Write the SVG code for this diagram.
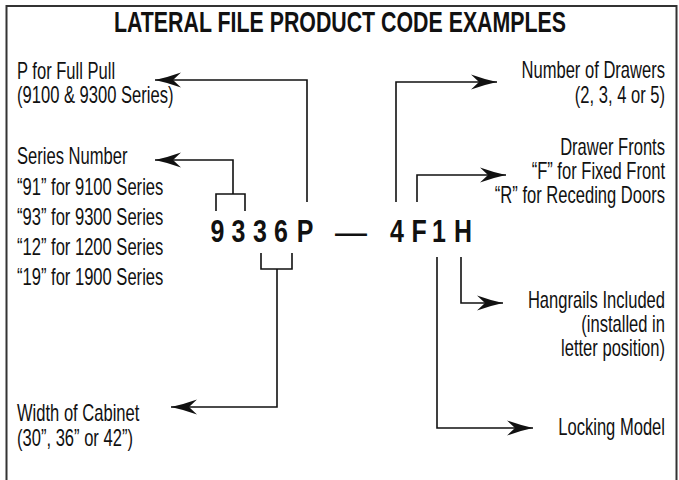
<svg xmlns="http://www.w3.org/2000/svg" width="679" height="480" viewBox="0 0 679 480">
<style>
.t{font-family:"Liberation Sans",Arial,sans-serif;font-size:23px;fill:#111;}
.r{text-anchor:end;}
.title{font-family:"Liberation Sans",Arial,sans-serif;font-size:29px;font-weight:bold;fill:#111;text-anchor:middle;}
.c{font-family:"Liberation Sans",Arial,sans-serif;font-size:32px;font-weight:bold;fill:#111;text-anchor:middle;}
.ln{fill:none;stroke:#111;stroke-width:1.6;}
</style>
<defs>
<marker id="ah" viewBox="-27 -9 28 18" refX="0" refY="0" markerWidth="28" markerHeight="18" markerUnits="userSpaceOnUse" orient="auto">
<path d="M0,0 Q-12,-2.5 -26,-7.5 L-18,0 L-26,7.5 Q-12,2.5 0,0 Z" fill="#111"/>
</marker>
</defs>
<rect x="6.5" y="6" width="670" height="490" fill="#fff" stroke="#333" stroke-width="2"/>
<g id="title"><text class="title" transform="translate(340,32) scale(0.736,1)">LATERAL FILE PRODUCT CODE EXAMPLES</text></g>
<g id="code">
<text class="c" transform="translate(217.5,242) scale(0.78,1)">9</text>
<text class="c" transform="translate(238.5,242) scale(0.78,1)">3</text>
<text class="c" transform="translate(260,242) scale(0.78,1)">3</text>
<text class="c" transform="translate(281,242) scale(0.78,1)">6</text>
<text class="c" transform="translate(305,242) scale(0.78,1)">P</text>
<text class="c" transform="translate(351,242) scale(1.0,0.8)">—</text>
<text class="c" transform="translate(397,242) scale(0.78,1)">4</text>
<text class="c" transform="translate(419,242) scale(0.78,1)">F</text>
<text class="c" transform="translate(439,242) scale(0.78,1)">1</text>
<text class="c" transform="translate(463,242) scale(0.78,1)">H</text>
</g>
<g id="full-pull">
<text class="t" transform="translate(17,79) scale(0.72,1)">P for Full Pull</text>
<text class="t" transform="translate(17,103) scale(0.72,1)">(9100 &amp; 9300 Series)</text>
</g>
<g id="series-number">
<text class="t" transform="translate(17,164) scale(0.72,1)">Series Number</text>
<text class="t" transform="translate(17,195) scale(0.72,1)">“91” for 9100 Series</text>
<text class="t" transform="translate(17,225) scale(0.72,1)">“93” for 9300 Series</text>
<text class="t" transform="translate(17,255) scale(0.72,1)">“12” for 1200 Series</text>
<text class="t" transform="translate(17,285) scale(0.72,1)">“19” for 1900 Series</text>
</g>
<g id="width">
<text class="t" transform="translate(17,421) scale(0.72,1)">Width of Cabinet</text>
<text class="t" transform="translate(17,446) scale(0.72,1)">(30”, 36” or 42”)</text>
</g>
<g id="drawers">
<text class="t r" transform="translate(665,78) scale(0.72,1)">Number of Drawers</text>
<text class="t r" transform="translate(665,103) scale(0.72,1)">(2, 3, 4 or 5)</text>
</g>
<g id="fronts">
<text class="t r" transform="translate(665,155) scale(0.72,1)">Drawer Fronts</text>
<text class="t r" transform="translate(665,179) scale(0.72,1)">“F” for Fixed Front</text>
<text class="t r" transform="translate(665,203) scale(0.72,1)">“R” for Receding Doors</text>
</g>
<g id="hangrails">
<text class="t r" transform="translate(665,308) scale(0.72,1)">Hangrails Included</text>
<text class="t r" transform="translate(665,332) scale(0.72,1)">(installed in</text>
<text class="t r" transform="translate(665,356) scale(0.72,1)">letter position)</text>
</g>
<g id="locking">
<text class="t r" transform="translate(665,435) scale(0.72,1)">Locking Model</text>
</g>
<g id="connectors">
<path class="ln" d="M307,202 V80 H155" marker-end="url(#ah)"/>
<path class="ln" d="M216,211 V194 H245 V211"/>
<path class="ln" d="M233,194 V160 H155" marker-end="url(#ah)"/>
<path class="ln" d="M261,253 V269 H292 V253"/>
<path class="ln" d="M277,269 V407 H171" marker-end="url(#ah)"/>
<path class="ln" d="M396,202 V82 H497" marker-end="url(#ah)"/>
<path class="ln" d="M417,202 V175 H506" marker-end="url(#ah)"/>
<path class="ln" d="M461,257 V303 H503" marker-end="url(#ah)"/>
<path class="ln" d="M437,257 V428 H533" marker-end="url(#ah)"/>
</g>
</svg>
